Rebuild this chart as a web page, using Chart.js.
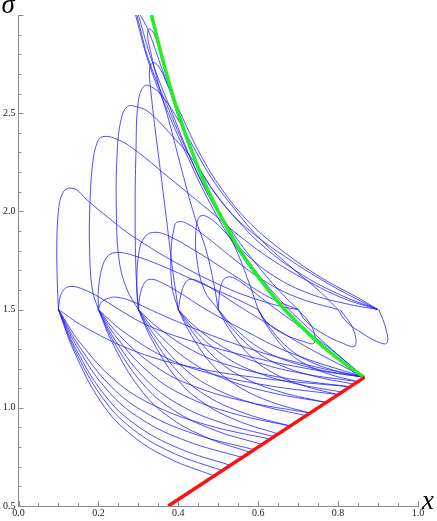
<!DOCTYPE html>
<html lang="en">
<head>
<meta charset="UTF-8" />
<title>Sigma versus x trajectories</title>
<script src="https://cdn.jsdelivr.net/npm/chart.js"></script>
<style>
  * { margin: 0; padding: 0; box-sizing: border-box; }
  body { background: #fff; width: 437px; height: 521px; overflow: hidden; }
  .chart-box { position: relative; width: 437px; height: 521px; }
</style>
</head>
<body>
<div class="chart-box"><canvas id="sigmaChart"></canvas></div>
<script>
// axis ranges and tick spacing
const xRange = [0, 1];
const sigmaRange = [0.5, 3.0];
const xTickStep = 0.05;
const xLabelStep = 0.2;
const sigmaTickStep = 0.1;
const sigmaLabelStep = 0.5;

// red boundary and green curve
const redLine = [[0.375, 0.5], [0.866, 1.155]];
const greenCurve = [[0.333,3.0],[0.36,2.78],[0.4,2.5],[0.45,2.222],[0.5,2.0],[0.55,1.818],[0.6,1.667],
  [0.65,1.538],[0.7,1.429],[0.75,1.333],[0.8,1.25],[0.866,1.155]];

// curves falling from the start points on sigma = 1.5 to the red line
const fallFrom01 = [
  [[0.1,1.5],[0.139,1.288],[0.205,1.034],[0.276,0.873],[0.373,0.746],[0.49,0.653]],
  [[0.1,1.5],[0.141,1.295],[0.211,1.049],[0.285,0.893],[0.387,0.770],[0.51,0.68]],
  [[0.1,1.5],[0.143,1.302],[0.216,1.064],[0.294,0.913],[0.401,0.794],[0.53,0.707]],
  [[0.1,1.5],[0.146,1.312],[0.224,1.086],[0.307,0.943],[0.422,0.83],[0.56,0.747]],
  [[0.1,1.5],[0.149,1.322],[0.232,1.108],[0.321,0.972],[0.443,0.865],[0.59,0.787]],
  [[0.1,1.5],[0.153,1.335],[0.243,1.137],[0.339,1.012],[0.471,0.913],[0.63,0.84]],
  [[0.1,1.5],[0.173,1.402],[0.297,1.284],[0.429,1.209],[0.611,1.15],[0.83,1.107]]
];
const fallFrom02 = [
  [[0.2,1.5],[0.238,1.318],[0.303,1.1],[0.371,0.962],[0.466,0.853],[0.58,0.773]],
  [[0.2,1.5],[0.241,1.328],[0.311,1.122],[0.385,0.992],[0.487,0.889],[0.61,0.813]],
  [[0.2,1.5],[0.244,1.338],[0.319,1.144],[0.398,1.021],[0.508,0.924],[0.64,0.853]],
  [[0.2,1.5],[0.248,1.352],[0.33,1.174],[0.416,1.061],[0.536,0.972],[0.68,0.907]],
  [[0.2,1.5],[0.253,1.368],[0.343,1.21],[0.439,1.11],[0.571,1.031],[0.73,0.973]],
  [[0.2,1.5],[0.26,1.392],[0.362,1.262],[0.47,1.18],[0.62,1.115],[0.8,1.067]]
];
const fallFrom03 = [
  [[0.3,1.5],[0.335,1.342],[0.395,1.152],[0.458,1.032],[0.545,0.937],[0.65,0.867]],
  [[0.3,1.5],[0.338,1.352],[0.403,1.174],[0.471,1.061],[0.566,0.972],[0.68,0.907]],
  [[0.3,1.5],[0.342,1.365],[0.413,1.203],[0.489,1.1],[0.594,1.019],[0.72,0.96]],
  [[0.3,1.5],[0.347,1.382],[0.427,1.24],[0.512,1.15],[0.629,1.079],[0.77,1.027]],
  [[0.3,1.5],[0.353,1.402],[0.443,1.284],[0.539,1.209],[0.671,1.15],[0.83,1.107]]
];
const fallFrom04 = [
  [[0.4,1.5],[0.433,1.368],[0.489,1.21],[0.549,1.11],[0.631,1.031],[0.73,0.973]],
  [[0.4,1.5],[0.437,1.382],[0.5,1.24],[0.567,1.15],[0.659,1.079],[0.77,1.027]],
  [[0.4,1.5],[0.441,1.395],[0.511,1.269],[0.585,1.189],[0.687,1.126],[0.81,1.08]],
  [[0.4,1.5],[0.445,1.408],[0.522,1.298],[0.603,1.228],[0.715,1.173],[0.85,1.133]]
];
const fallFrom05 = [
  [[0.5,1.5],[0.53,1.392],[0.581,1.262],[0.635,1.18],[0.71,1.115],[0.8,1.067]],
  [[0.5,1.5],[0.534,1.405],[0.592,1.291],[0.653,1.219],[0.738,1.162],[0.84,1.12]],
  [[0.5,1.5],[0.537,1.414],[0.599,1.31],[0.665,1.245],[0.756,1.193],[0.866,1.155]]
];
const fallFrom06 = [
  [[0.6,1.5],[0.625,1.408],[0.668,1.298],[0.713,1.228],[0.775,1.173],[0.85,1.133]],
  [[0.6,1.5],[0.627,1.414],[0.672,1.31],[0.72,1.245],[0.786,1.193],[0.866,1.155]]
];

// low arches that run down to the tip
const lowArches = [
  [[0.1,1.5],[0.105,1.57],[0.117,1.608],[0.133,1.618],[0.16,1.605],[0.203,1.562],[0.26,1.49],[0.328,1.415],[0.45,1.33],[0.6,1.25],[0.75,1.19],[0.866,1.155]],
  [[0.2,1.5],[0.207,1.535],[0.225,1.558],[0.246,1.563],[0.28,1.545],[0.34,1.49],[0.42,1.42],[0.55,1.32],[0.7,1.23],[0.866,1.155]],
  [[0.3,1.5],[0.305,1.58],[0.315,1.635],[0.328,1.654],[0.35,1.645],[0.4,1.59],[0.47,1.5],[0.56,1.4],[0.68,1.28],[0.866,1.155]],
  [[0.4,1.5],[0.407,1.58],[0.417,1.635],[0.429,1.654],[0.45,1.645],[0.49,1.6],[0.55,1.52],[0.63,1.42],[0.73,1.3],[0.866,1.155]],
  [[0.5,1.5],[0.503,1.58],[0.51,1.64],[0.522,1.665],[0.54,1.66],[0.57,1.62],[0.62,1.54],[0.7,1.42],[0.78,1.3],[0.866,1.155]]
];

// middle arches
const midArches = [
  [[0.2,1.5],[0.2,1.6],[0.21,1.72],[0.225,1.775],[0.246,1.791],[0.28,1.78],[0.35,1.73],[0.45,1.64],[0.55,1.55],[0.6,1.5]],
  [[0.3,1.5],[0.296,1.62],[0.302,1.8],[0.316,1.87],[0.336,1.893],[0.37,1.88],[0.45,1.79],[0.55,1.66],[0.63,1.56],[0.7,1.5]],
  [[0.4,1.5],[0.384,1.62],[0.382,1.8],[0.388,1.9],[0.396,1.944],[0.42,1.94],[0.47,1.87],[0.55,1.74],[0.62,1.64],[0.7,1.56],[0.8,1.5]],
  [[0.5,1.5],[0.465,1.6],[0.445,1.78],[0.445,1.92],[0.454,1.974],[0.47,1.975],[0.5,1.93],[0.56,1.8],[0.64,1.67],[0.73,1.58],[0.82,1.53],[0.9,1.5]]
];

// tall arches that come back down right of the green curve
const tallArches = [
  [[0.1,1.5],[0.097,1.65],[0.096,1.85],[0.101,2.02],[0.11,2.09],[0.123,2.117],[0.145,2.11],[0.17,2.061],[0.23,1.96],[0.286,1.873],[0.411,1.72],[0.529,1.603],[0.6,1.55],[0.66,1.515],[0.7,1.5]],
  [[0.2,1.5],[0.185,1.6],[0.178,1.8],[0.179,2.05],[0.186,2.25],[0.197,2.35],[0.211,2.381],[0.25,2.365],[0.3,2.3],[0.36,2.2],[0.42,2.1],[0.48,2.0],[0.55,1.88],[0.63,1.76],[0.72,1.65],[0.81,1.56],[0.9,1.5]],
  [[0.3,1.5],[0.272,1.6],[0.252,1.75],[0.245,2.0],[0.247,2.3],[0.257,2.47],[0.273,2.534],[0.3,2.53],[0.328,2.503],[0.386,2.381],[0.436,2.264],[0.49,2.1],[0.55,1.95],[0.62,1.81],[0.7,1.69],[0.8,1.58],[0.9,1.5]],
  [[0.3,1.5],[0.294,1.7],[0.292,2.0],[0.294,2.3],[0.3,2.56],[0.316,2.64],[0.34,2.625],[0.361,2.584],[0.404,2.452],[0.44,2.32],[0.48,2.18],[0.53,2.04],[0.6,1.87],[0.68,1.72],[0.75,1.6],[0.8,1.5]],
  [[0.4,1.5],[0.386,1.7],[0.371,1.95],[0.357,2.18],[0.342,2.42],[0.331,2.62],[0.328,2.72],[0.336,2.757],[0.35,2.74],[0.372,2.65],[0.41,2.48],[0.45,2.31],[0.5,2.14],[0.57,1.96],[0.66,1.8],[0.76,1.66],[0.85,1.56],[0.9,1.5]],
  [[0.5,1.5],[0.49,1.62],[0.47,1.8],[0.44,1.98],[0.41,2.2],[0.378,2.45],[0.35,2.65],[0.33,2.82],[0.323,2.9],[0.328,2.93],[0.34,2.9],[0.355,2.8],[0.375,2.65],[0.4,2.48],[0.43,2.32],[0.47,2.16],[0.52,2.02],[0.58,1.9],[0.66,1.78],[0.76,1.65],[0.85,1.55],[0.9,1.5]]
];

// curves climbing along the green curve and leaving the top
const climbAlongGreen = [
  [[0.6,1.5],[0.58,1.62],[0.55,1.78],[0.51,1.96],[0.47,2.14],[0.43,2.33],[0.39,2.55],[0.355,2.75],[0.325,2.92],[0.3,3.02]],
  [[0.866,1.155],[0.75,1.36],[0.65,1.56],[0.56,1.79],[0.486,2.04],[0.43,2.27],[0.378,2.51],[0.328,2.76],[0.296,3.0]],
  [[0.85,1.16],[0.74,1.36],[0.64,1.56],[0.55,1.8],[0.48,2.04],[0.425,2.27],[0.375,2.5],[0.327,2.75],[0.293,3.0]],
  [[0.7,1.5],[0.66,1.58],[0.6,1.72],[0.54,1.88],[0.49,2.04],[0.44,2.23],[0.385,2.5],[0.335,2.76],[0.3,3.0]]
];

// loops between the start points right of the green curve
const rightLoops = [
  [[0.6,1.5],[0.62,1.44],[0.66,1.38],[0.71,1.34],[0.74,1.33],[0.735,1.41],[0.7,1.5]],
  [[0.7,1.5],[0.72,1.44],[0.76,1.38],[0.81,1.33],[0.842,1.315],[0.838,1.4],[0.805,1.5]],
  [[0.8,1.5],[0.82,1.44],[0.86,1.38],[0.9,1.335],[0.922,1.33],[0.92,1.4],[0.902,1.5]]
];

const blueGroups = [fallFrom01, fallFrom02, fallFrom03, fallFrom04, fallFrom05, fallFrom06,
  lowArches, midArches, tallArches, climbAlongGreen, rightLoops];

const toXY = pts => pts.map(p => ({ x: p[0], y: p[1] }));

const datasets = [
  { data: toXY(redLine), borderColor: '#ff1010', borderWidth: 3.5, order: 0, tension: 0 },
  { data: toXY(greenCurve), borderColor: '#22f022', borderWidth: 3.5, order: 0, tension: 0.4 }
];
blueGroups.forEach(group => {
  group.forEach(curve => {
    datasets.push({ data: toXY(curve), borderColor: 'rgba(30,30,255,0.78)', borderWidth: 1, order: 1, tension: 0.4 });
  });
});
datasets.forEach(d => { d.showLine = true; d.pointRadius = 0; d.fill = false; });

const onStep = (v, step) => Math.abs(v / step - Math.round(v / step)) < 1e-6;

// inward tick marks and the two axis letters
const axisDecor = {
  id: 'axisDecor',
  afterDraw(chart) {
    const ctx = chart.ctx;
    const area = chart.chartArea;
    const xs = chart.scales.x, ys = chart.scales.y;
    ctx.save();
    ctx.strokeStyle = '#8a8a8a';
    ctx.lineWidth = 1;
    ctx.beginPath();
    xs.ticks.forEach(t => {
      const px = Math.round(xs.getPixelForValue(t.value)) + 0.5;
      const len = onStep(t.value, xLabelStep) ? 5 : 3;
      ctx.moveTo(px, area.bottom);
      ctx.lineTo(px, area.bottom - len);
    });
    ys.ticks.forEach(t => {
      const py = Math.round(ys.getPixelForValue(t.value)) + 0.5;
      const len = onStep(t.value - sigmaRange[0], sigmaLabelStep) ? 5 : 3;
      ctx.moveTo(area.left, py);
      ctx.lineTo(area.left + len, py);
    });
    ctx.stroke();
    ctx.fillStyle = '#000';
    ctx.font = 'italic 27px "Liberation Serif", serif';
    ctx.textBaseline = 'alphabetic';
    ctx.fillText('σ', area.left - 17, area.top - 2);
    ctx.fillText('x', area.right + 4, area.bottom + 3);
    ctx.restore();
  }
};

const tickFont = { family: '"Liberation Serif", serif', size: 10, lineHeight: 1 };

new Chart(document.getElementById('sigmaChart'), {
  type: 'scatter',
  data: { datasets },
  options: {
    responsive: true,
    maintainAspectRatio: false,
    animation: false,
    layout: { padding: { top: 15, right: 19, left: 0, bottom: 1 } },
    plugins: { legend: { display: false }, tooltip: { enabled: false } },
    scales: {
      x: {
        type: 'linear',
        min: xRange[0], max: xRange[1],
        border: { display: true, color: '#8a8a8a', width: 1 },
        grid: { drawOnChartArea: false, drawTicks: false },
        ticks: {
          stepSize: xTickStep, autoSkip: false, maxRotation: 0, padding: 2,
          color: '#222', font: tickFont,
          callback: v => onStep(v, xLabelStep) ? v.toFixed(1) : ''
        }
      },
      y: {
        type: 'linear',
        min: sigmaRange[0], max: sigmaRange[1],
        border: { display: true, color: '#8a8a8a', width: 1 },
        grid: { drawOnChartArea: false, drawTicks: false },
        ticks: {
          stepSize: sigmaTickStep, autoSkip: false, padding: 3,
          color: '#222', font: tickFont,
          callback: v => (onStep(v - sigmaRange[0], sigmaLabelStep) && v < sigmaRange[1] - 1e-6) ? v.toFixed(1) : ''
        }
      }
    }
  },
  plugins: [axisDecor]
});
</script>
</body>
</html>
